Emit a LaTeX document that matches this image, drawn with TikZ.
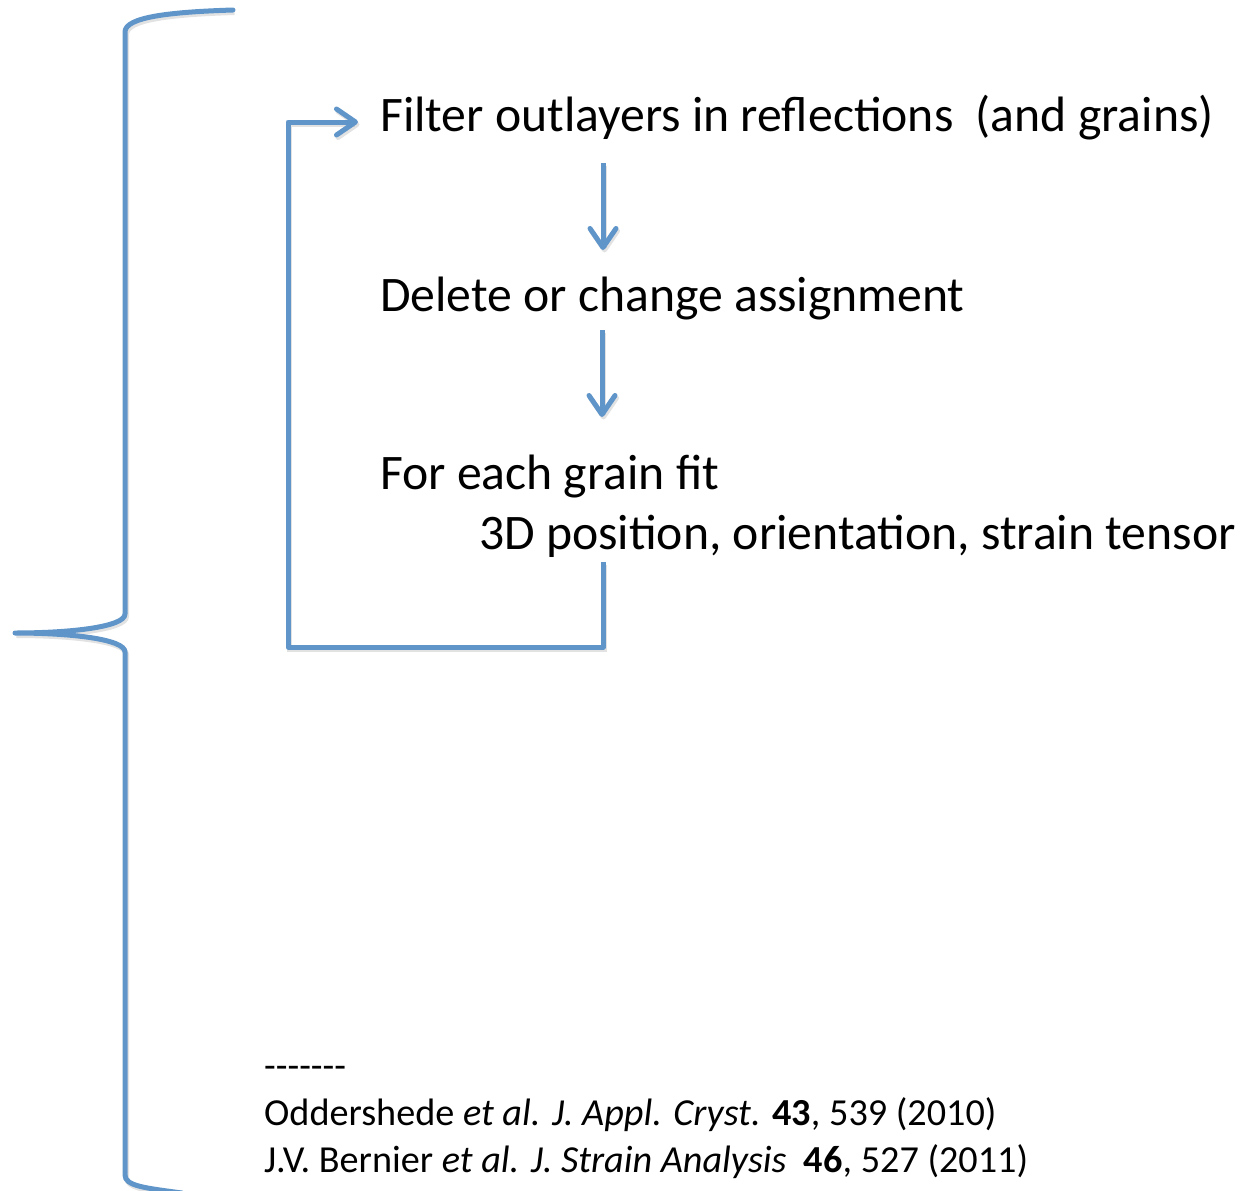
\documentclass[tikz,border=0pt]{standalone}
\usepackage{fontspec}
\setmainfont{Carlito}
\usetikzlibrary{arrows.meta}
\definecolor{flowblue}{RGB}{96,149,202}
\tikzset{
  flowline/.style={draw=flowblue, line width=5pt, line join=round,
    preaction={draw=black!45, opacity=0.25, line width=5pt,
      transform canvas={shift={(1.5pt,-2.5pt)}}}},
  flowarrow/.style={flowline, -{Straight Barb[length=19pt,width=26pt,round]}},
  bigtext/.style={anchor=base west, inner sep=0pt, font=\fontsize{49.7}{60}\selectfont},
  reftext/.style={anchor=base west, inner sep=0pt, font=\fontsize{38.2}{46}\selectfont},
}
\begin{document}
\begin{tikzpicture}[x=1pt,y=-1pt]
\useasboundingbox (0,0) rectangle (1250,1191);

% the three steps of the refinement loop
\node[bigtext] (filter) at (380,131) {Filter outlayers in reflections\ \ (and grains)};
\node[bigtext] (delete) at (380,311) {Delete or change assignment};
\node[bigtext] (fit)    at (380,489) {For each grain fit};
\node[bigtext] (params) at (479,549) {3D position, orientation, strain tensor};

% references
\node[reftext] (rule)  at (264,1078) {-{}-{}-{}-{}-{}-{}-};
\node[reftext] (ref1)  at (264,1125) {Oddershede \textit{et al. J. Appl. Cryst.} \textbf{43}, 539 (2010)};
\node[reftext] (ref2)  at (264,1172) {J.V. Bernier \textit{et al. J. Strain Analysis}\ \ \textbf{46}, 527 (2011)};

% arrow ends and loop corners
\coordinate (a1s) at (603,163);
\coordinate (a1e) at (603,250);
\coordinate (a2s) at (602,330);
\coordinate (a2e) at (602,417);
\coordinate (ls)  at (603,562);
\coordinate (lbr) at (603,647);
\coordinate (lbl) at (288,647);
\coordinate (ltl) at (288,122);
\coordinate (le)  at (358,122);

\draw[flowarrow] (a1s) -- (a1e);
\draw[flowarrow] (a2s) -- (a2e);
\draw[flowarrow] (ls) -- (lbr) -- (lbl) -- (ltl) -- (le);

% curly brace on the left
\coordinate (btop) at (233,10);
\coordinate (btip) at (15,633);
\coordinate (bbot) at (182,1193);
\draw[flowline, line cap=round]
  (btop) .. controls (170,12) and (125,17) .. (125,32)
  -- (125,614) .. controls (125,627) and (70,633) .. (btip)
  .. controls (70,633) and (125,639) .. (125,652)
  -- (125,1175) .. controls (125,1186) and (145,1188) .. (bbot);
\end{tikzpicture}
\end{document}
